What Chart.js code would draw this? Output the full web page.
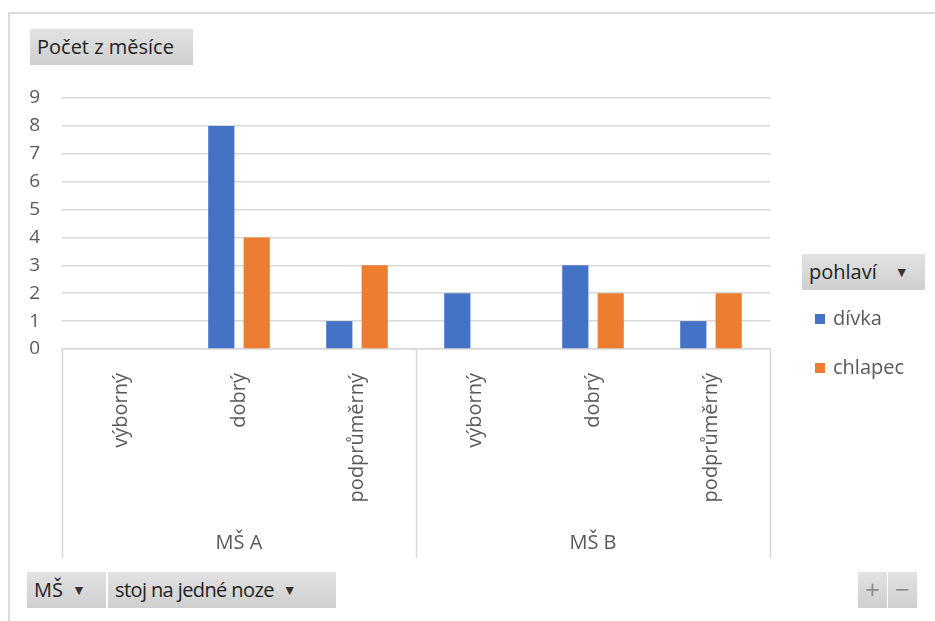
<!DOCTYPE html>
<html>
<head>
<meta charset="utf-8">
<script src="https://cdn.jsdelivr.net/npm/chart.js@4/dist/chart.umd.min.js"></script>
<style>
  body { margin: 0; background: #fff; font-family: "Open Sans", sans-serif; }
  #wrap { position: relative; width: 935px; height: 621px; overflow: hidden; }
  #frame { position: absolute; left: 8px; top: 12px; width: 940px; height: 620px;
           border-left: 2px solid #dadada; border-top: 2px solid #dadada; box-sizing: border-box; }
  canvas { position: absolute; left: 0; top: 0; }
  .btn { position: absolute; height: 36px; line-height: 36px; background: linear-gradient(#e2e2e2, #cfcfcf);
         color: #222; font-size: 20px; padding: 0 7px; box-sizing: border-box; white-space: nowrap; }
  .arr { font-size: 14px; color: #333; margin-left: 9px; vertical-align: 2px; }
  .pm { color: #8a8a8a; text-align: center; padding: 0; font-size: 26px; line-height: 34px; }
  #legend { position: absolute; left: 815px; top: 300px; font-size: 20px; color: #595959; }
  #legend div { height: 49px; line-height: 36px; }
  #legend span.sw { display: inline-block; width: 10px; height: 10px; margin-right: 8px; vertical-align: 1px; }
</style>
</head>
<body>
<div id="wrap">
  <div id="frame"></div>
  <canvas id="myChart" width="935" height="621"></canvas>
  <div class="btn" style="left:30px; top:29px; width:163px;">Počet z měsíce</div>
  <div class="btn" style="left:802px; top:254px; width:123px;">pohlaví<span class="arr" style="margin-left:18px">▼</span></div>
  <div id="legend"></div>
  <div class="btn" style="left:27px; top:572px; width:79px;">MŠ<span class="arr">▼</span></div>
  <div class="btn" style="left:108px; top:572px; width:228px; letter-spacing:-0.6px;">stoj na jedné noze<span class="arr">▼</span></div>
  <div class="btn pm" style="left:858px; top:572px; width:29px;">+</div>
  <div class="btn pm" style="left:888px; top:572px; width:29px;">−</div>
</div>
<script>
const categories = ['výborný', 'dobrý', 'podprůměrný', 'výborný', 'dobrý', 'podprůměrný']
const groups = ['MŠ A', 'MŠ B']
const seriesNames = ['dívka', 'chlapec']
const divka = [null, 8, 1, 2, 3, 1]
const chlapec = [null, 4, 3, null, 2, 2]
const yTicks = [0, 1, 2, 3, 4, 5, 6, 7, 8, 9]
const colors = ['#4472C4', '#ED7D31']

// legenda vpravo
const legendBox = document.getElementById('legend')
seriesNames.forEach((name, i) => {
    legendBox.innerHTML += `<div><span class="sw" style="background:${colors[i]}"></span>${name}</div>`
})

// skupiny MŠ A / MŠ B pod osou x
const groupPlugin = {
    id: 'groups',
    afterDraw(chart) {
        const ctx = chart.ctx
        const x = chart.scales.x
        const step = (x.right - x.left) / categories.length
        const per = categories.length / groups.length
        const top = chart.chartArea.bottom
        const bottom = x.bottom
        ctx.save()
        ctx.strokeStyle = '#d9d9d9'
        ctx.lineWidth = 1.5
        for (let g = 0; g <= groups.length; g++) {
            const px = Math.round(x.getPixelForValue(g * per) - step / 2) + 0.5
            ctx.beginPath()
            ctx.moveTo(px, top)
            ctx.lineTo(px, bottom)
            ctx.stroke()
        }
        ctx.fillStyle = '#595959'
        ctx.font = '20px "Open Sans"'
        ctx.textAlign = 'center'
        ctx.textBaseline = 'middle'
        groups.forEach((name, g) => {
            const a = x.getPixelForValue(g * per) - step / 2
            const b = x.getPixelForValue((g + 1) * per - 1) + step / 2
            ctx.fillText(name, (a + b) / 2, bottom - 15)
        })
        ctx.restore()
    }
}

const ctx = document.getElementById('myChart').getContext('2d')
const chart = new Chart(ctx, {
    type: 'bar',
    data: {
        labels: categories,
        datasets: seriesNames.map((name, i) => ({
            label: name,
            data: i === 0 ? divka : chlapec,
            backgroundColor: colors[i],
            categoryPercentage: 0.6,
            barPercentage: 0.74
        }))
    },
    options: {
        responsive: false,
        animation: false,
        layout: { padding: { left: 0, right: 165, top: 98, bottom: 63 } },
        plugins: { legend: { display: false }, tooltip: { enabled: false } },
        scales: {
            x: {
                grid: { display: false },
                border: { display: true, color: '#d9d9d9', width: 1.5 },
                ticks: {
                    autoSkip: false, minRotation: 90, maxRotation: 90, padding: 16,
                    color: '#595959', font: { family: 'Open Sans', size: 20 }
                },
                afterFit(scale) { scale.height = 209 }
            },
            y: {
                min: 0, max: 9,
                afterBuildTicks(scale) { scale.ticks = yTicks.map(v => ({ value: v })) },
                grid: { color: '#d9d9d9', lineWidth: 1.5, drawTicks: false },
                border: { display: false },
                ticks: { padding: 22, color: '#595959', font: { family: 'Open Sans', size: 19 } },
                afterFit(scale) { scale.width = 62 }
            }
        }
    },
    plugins: [groupPlugin]
})
</script>
</body>
</html>
